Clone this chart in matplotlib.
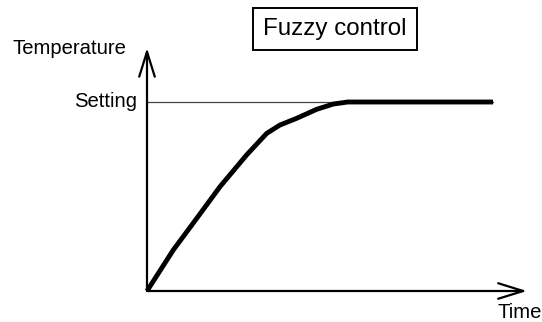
import matplotlib
matplotlib.use("Agg")
import matplotlib.pyplot as plt
from matplotlib.patches import FancyArrowPatch

plt.rcParams["font.family"] = ["Liberation Sans", "DejaVu Sans"]

# temperature response under fuzzy control (time and temperature in % of setting)
time = [0, 7.6, 14.4, 21.1, 28.8, 34.6, 38.4, 43.3, 49.0, 53.8, 58.0, 100]
temperature = [0, 21.7, 38.5, 55.2, 72.0, 83.4, 87.8, 91.4, 96.1, 98.9, 100, 100]
setting = 100
title = "Fuzzy control"
xlabel = "Time"
ylabel = "Temperature"
setting_label = "Setting"

W, H = 542, 322
fig = plt.figure(figsize=(W / 100, H / 100), dpi=100)
# origin of the sketch at (147, 291) px, setting line end at (493, 102) px
ax = fig.add_axes([147 / W, (H - 291) / H, (493 - 147) / W, (291 - 102) / H])
ax.set_xlim(0, 100)
ax.set_ylim(0, 100)
ax.axis("off")

# setting level
ax.plot([0, 100], [setting, setting], color="#444444", lw=0.9, clip_on=False, zorder=2)

# response curve
ax.plot(time, temperature, color="black", lw=3.5, solid_joinstyle="round",
        solid_capstyle="butt", clip_on=False, zorder=3)

# axes arrows
for end in [(109.8, 0), (0, 128.6)]:
    arr = FancyArrowPatch((0, 0), end, arrowstyle="->,head_length=0.9,head_width=0.28",
                          mutation_scale=20, lw=1.6, color="black",
                          shrinkA=0, shrinkB=0, clip_on=False, zorder=4)
    ax.add_patch(arr)

ax.text(-2.9, 97.4, setting_label, ha="right", va="baseline", fontsize=14.6, clip_on=False)
ax.text(-22.3, 125.4, ylabel, ha="center", va="baseline", fontsize=14.6, clip_on=False)
ax.text(101.2, -14.3, xlabel, ha="left", va="baseline", fontsize=14.6, clip_on=False)
ax.text(54.3, 135.4, title, ha="center", va="baseline", fontsize=17.4, clip_on=False,
        bbox=dict(boxstyle="square,pad=0.42", fc="white", ec="black", lw=1.4))

fig.savefig("out.png", dpi=100)
